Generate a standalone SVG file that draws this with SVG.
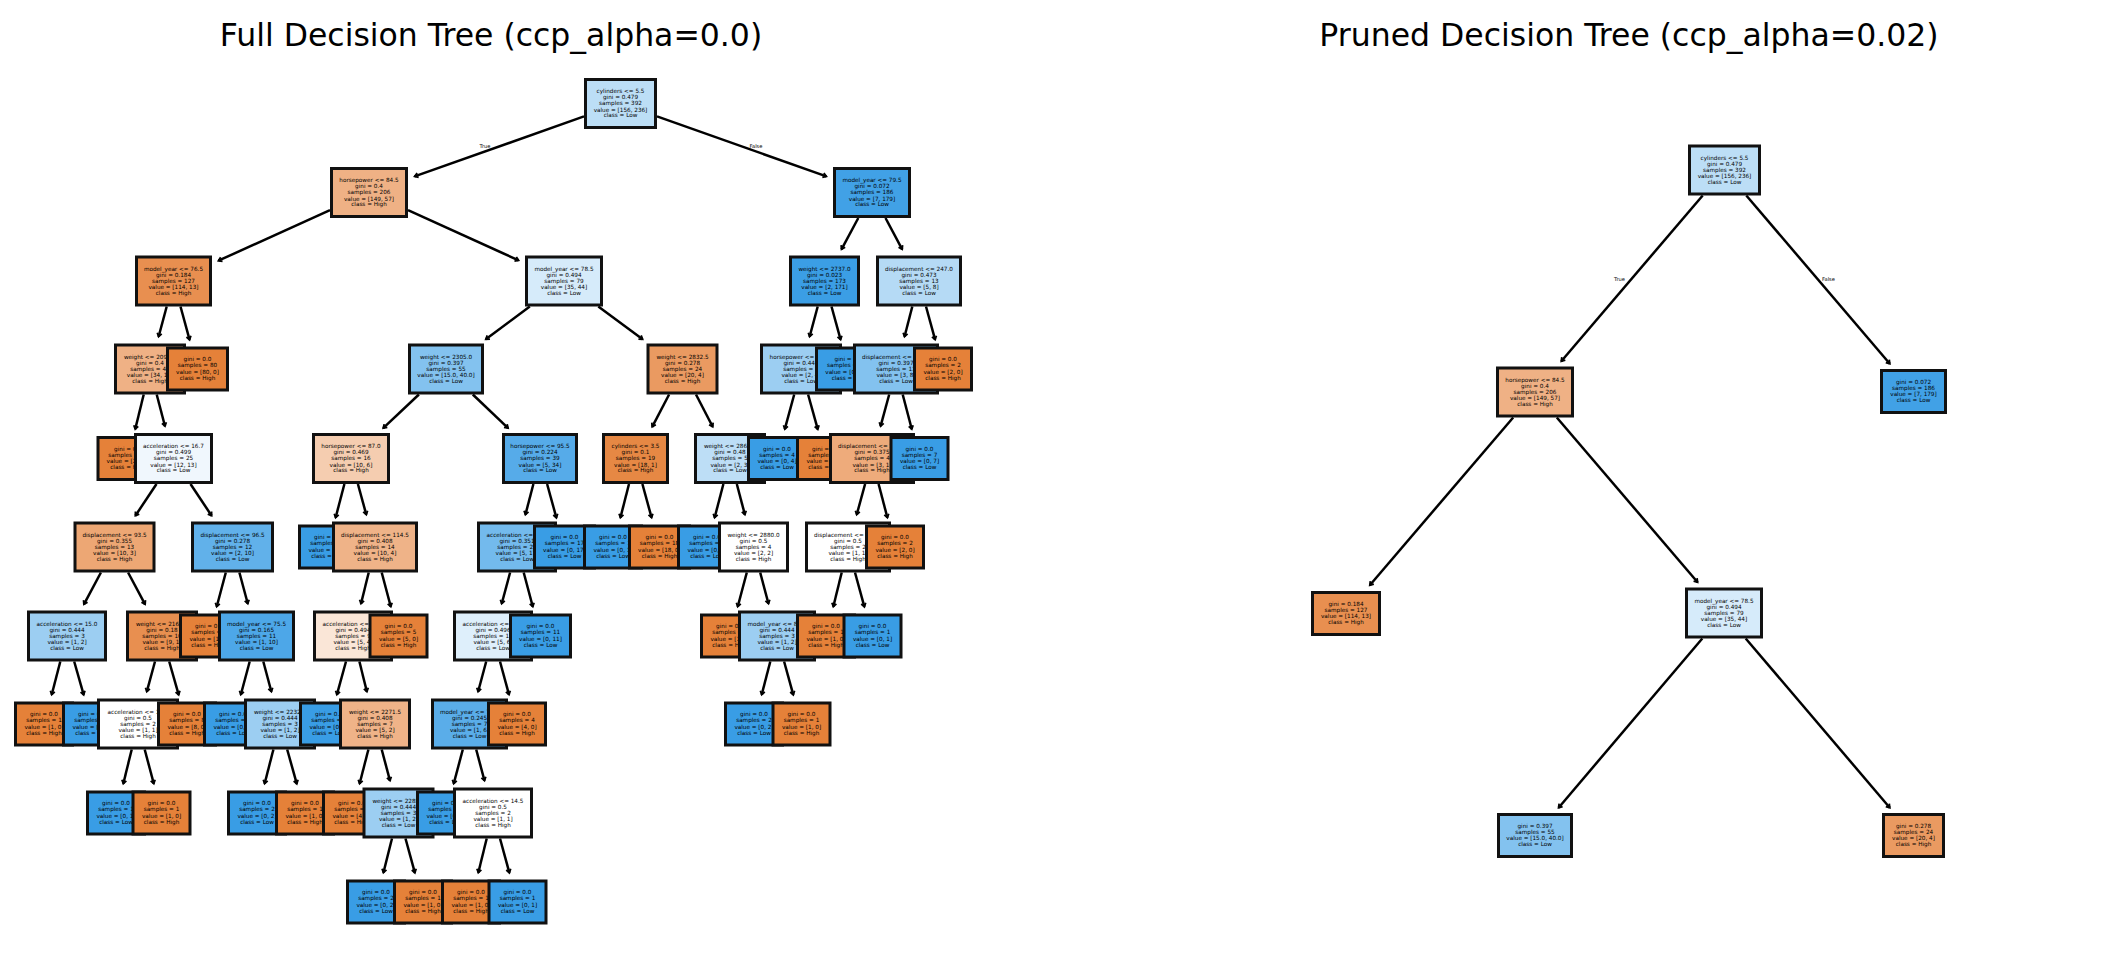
<svg xmlns="http://www.w3.org/2000/svg" width="2121" height="965" viewBox="0 0 2121 965">
<defs>
<style>
.t{font-family:"DejaVu Sans",Verdana,sans-serif;font-size:5.7px;text-anchor:middle;fill:#000}
.lbl{font-family:"DejaVu Sans",Verdana,sans-serif;font-size:5.2px;text-anchor:middle;fill:#000}
.ttl{font-family:"DejaVu Sans",Verdana,sans-serif;font-size:31.5px;text-anchor:middle;fill:#000}
rect{stroke:#111;stroke-width:3}
.e{fill:none;stroke:#000;stroke-width:2.5;marker-end:url(#ah)}
.k0{fill:#e58139}.k1{fill:#399de5}.kw{fill:#ffffff}
.a1{fill:#bcdef6}.a2{fill:#efb185}.a3{fill:#41a1e6}.a4{fill:#e88f50}.a5{fill:#d6ebfa}.a6{fill:#3b9ee5}.a7{fill:#b5daf5}.a8{fill:#83c2ef}.a9{fill:#ea9a61}
.b1{fill:#f0f7fd}.b2{fill:#f5cdb0}.b3{fill:#56abe9}.b4{fill:#e68844}.b5{fill:#bddef6}.b6{fill:#9ccef2}.b7{fill:#eda774}.b8{fill:#61b1ea}.b9{fill:#efb388}
.c1{fill:#73baed}.c2{fill:#eeab7b}.c3{fill:#4da7e8}.c4{fill:#fae6d7}.c5{fill:#deeffb}.c6{fill:#5aade9}
</style>
<marker id="ah" markerUnits="userSpaceOnUse" markerWidth="6" markerHeight="8" viewBox="-5 -4 6 8" refX="0" refY="0" orient="auto" overflow="visible">
<path d="M-3.5,-2.3 L0,0 L-3.5,2.3" fill="none" stroke="#000" stroke-width="1.8"/>
</marker>
</defs>
<rect x="0" y="0" width="2121" height="965" style="fill:#fff;stroke:none"/>
<text class="ttl" x="491" y="45.5">Full Decision Tree (ccp_alpha=0.0)</text>
<text class="ttl" x="1629" y="45.5">Pruned Decision Tree (ccp_alpha=0.02)</text>

<g id="connectors">
<path class="e" d="M584.0,116.4L414.6,176.4"/>
<path class="e" d="M657.0,116.4L826.4,176.4"/>
<path class="e" d="M330.0,210.2L218.4,260.7"/>
<path class="e" d="M408.0,210.2L518.6,260.4"/>
<path class="e" d="M166.7,306.5L158.6,336.7"/>
<path class="e" d="M180.5,306.5L189.6,339.8"/>
<path class="e" d="M143.7,394.5L135.2,429.2"/>
<path class="e" d="M156.7,394.5L165.0,426.2"/>
<path class="e" d="M156.5,484L135.4,515.7"/>
<path class="e" d="M190.5,484L211.6,515.7"/>
<path class="e" d="M100.9,572.5L83.9,604.3"/>
<path class="e" d="M128.1,572.5L145.1,604.3"/>
<path class="e" d="M60.3,661.5L51.7,694.7"/>
<path class="e" d="M74.2,661.5L83.7,694.8"/>
<path class="e" d="M155.0,661.5L146.8,691.7"/>
<path class="e" d="M169.2,661.5L178.7,694.8"/>
<path class="e" d="M131.7,749.5L123.3,783.7"/>
<path class="e" d="M144.7,749.5L153.8,783.7"/>
<path class="e" d="M225.8,572.5L216.7,606.7"/>
<path class="e" d="M239.4,572.5L247.8,603.7"/>
<path class="e" d="M249.7,661.5L240.8,694.7"/>
<path class="e" d="M263.3,661.5L271.4,691.7"/>
<path class="e" d="M273.4,749.5L264.6,783.7"/>
<path class="e" d="M287.2,749.5L296.8,783.8"/>
<path class="e" d="M529.8,306.5L485.8,339.3"/>
<path class="e" d="M598.3,306.5L642.6,339.3"/>
<path class="e" d="M418.9,394.5L383.2,428.2"/>
<path class="e" d="M472.8,394.5L508.1,428.2"/>
<path class="e" d="M344.4,484L335.6,517.7"/>
<path class="e" d="M357.9,484L366.3,514.7"/>
<path class="e" d="M368.7,572.5L361.0,603.7"/>
<path class="e" d="M381.7,572.5L390.8,606.7"/>
<path class="e" d="M346.0,661.5L336.9,694.7"/>
<path class="e" d="M359.4,661.5L366.9,691.7"/>
<path class="e" d="M368.4,749.5L359.6,783.7"/>
<path class="e" d="M381.7,749.5L390.0,780.7"/>
<path class="e" d="M392.0,838.5L383.4,872.7"/>
<path class="e" d="M405.5,838.5L414.9,872.8"/>
<path class="e" d="M533.4,484L525.4,514.7"/>
<path class="e" d="M547.1,484L556.4,517.8"/>
<path class="e" d="M510.1,572.5L501.7,603.7"/>
<path class="e" d="M523.7,572.5L532.8,606.7"/>
<path class="e" d="M486.2,661.5L478.1,691.7"/>
<path class="e" d="M500.0,661.5L509.0,694.7"/>
<path class="e" d="M462.8,749.5L453.7,783.7"/>
<path class="e" d="M476.2,749.5L484.5,780.7"/>
<path class="e" d="M486.7,838.5L478.3,872.7"/>
<path class="e" d="M500.0,838.5L509.4,872.8"/>
<path class="e" d="M669.1,394.5L652.2,426.8"/>
<path class="e" d="M696.0,394.5L712.7,426.8"/>
<path class="e" d="M629.0,484L620.4,517.7"/>
<path class="e" d="M642.4,484L651.6,517.7"/>
<path class="e" d="M723.4,484L714.6,517.7"/>
<path class="e" d="M736.8,484L744.9,514.7"/>
<path class="e" d="M746.8,572.5L737.7,606.7"/>
<path class="e" d="M760.2,572.5L768.5,603.7"/>
<path class="e" d="M770.3,661.5L761.7,694.7"/>
<path class="e" d="M784.1,661.5L793.3,694.8"/>
<path class="e" d="M858.3,218L841.5,249.3"/>
<path class="e" d="M885.5,218L902.2,249.3"/>
<path class="e" d="M817.7,306.5L809.6,336.7"/>
<path class="e" d="M831.5,306.5L840.6,339.7"/>
<path class="e" d="M794.2,394.5L784.8,429.2"/>
<path class="e" d="M808.1,394.5L817.8,429.3"/>
<path class="e" d="M912.3,306.5L904.5,336.7"/>
<path class="e" d="M926.0,306.5L935.1,339.7"/>
<path class="e" d="M889.2,394.5L880.6,426.2"/>
<path class="e" d="M902.7,394.5L911.8,429.2"/>
<path class="e" d="M865.1,484L856.7,514.7"/>
<path class="e" d="M878.6,484L887.4,517.7"/>
<path class="e" d="M841.7,572.5L833.3,606.7"/>
<path class="e" d="M855.0,572.5L864.4,606.8"/>
<path class="e" d="M1702.7,195.5L1561.3,361.2"/>
<path class="e" d="M1746.3,195.5L1889.8,363.7"/>
<path class="e" d="M1513.2,417.5L1369.8,585.2"/>
<path class="e" d="M1556.8,417.5L1697.6,582.2"/>
<path class="e" d="M1702.3,638.5L1558.6,807.7"/>
<path class="e" d="M1745.7,638.5L1889.8,807.7"/>
</g>

<g id="edge-labels">
<text class="lbl" x="485" y="147.8">True</text>
<text class="lbl" x="756" y="147.8">False</text>
<text class="lbl" x="1619.5" y="280.8">True</text>
<text class="lbl" x="1828.5" y="280.8">False</text>
</g>

<!-- full tree, level 9 -->
<g id="f32"><rect class="k1" x="347.5" y="881" width="57" height="42"/><text class="t" x="376" y="894.4"><tspan x="376">gini = 0.0</tspan><tspan x="376" dy="6">samples = 2</tspan><tspan x="376" dy="6.5">value = [0, 2]</tspan><tspan x="376" dy="5.6">class = Low</tspan></text></g>
<g id="f33"><rect class="k0" x="394.5" y="881" width="57" height="42"/><text class="t" x="423" y="894.4"><tspan x="423">gini = 0.0</tspan><tspan x="423" dy="6">samples = 1</tspan><tspan x="423" dy="6.5">value = [1, 0]</tspan><tspan x="423" dy="5.6">class = High</tspan></text></g>
<g id="f41"><rect class="k0" x="442.5" y="881" width="57" height="42"/><text class="t" x="471" y="894.4"><tspan x="471">gini = 0.0</tspan><tspan x="471" dy="6">samples = 1</tspan><tspan x="471" dy="6.5">value = [1, 0]</tspan><tspan x="471" dy="5.6">class = High</tspan></text></g>
<g id="f42"><rect class="k1" x="489" y="881" width="57" height="42"/><text class="t" x="517.5" y="894.4"><tspan x="517.5">gini = 0.0</tspan><tspan x="517.5" dy="6">samples = 1</tspan><tspan x="517.5" dy="6.5">value = [0, 1]</tspan><tspan x="517.5" dy="5.6">class = Low</tspan></text></g>

<!-- level 8 -->
<g id="f12"><rect class="k1" x="87.5" y="792" width="57" height="42"/><text class="t" x="116" y="805.4"><tspan x="116">gini = 0.0</tspan><tspan x="116" dy="6">samples = 1</tspan><tspan x="116" dy="6.5">value = [0, 1]</tspan><tspan x="116" dy="5.6">class = Low</tspan></text></g>
<g id="f13"><rect class="k0" x="133" y="792" width="57" height="42"/><text class="t" x="161.5" y="805.4"><tspan x="161.5">gini = 0.0</tspan><tspan x="161.5" dy="6">samples = 1</tspan><tspan x="161.5" dy="6.5">value = [1, 0]</tspan><tspan x="161.5" dy="5.6">class = High</tspan></text></g>
<g id="f20"><rect class="k1" x="228.5" y="792" width="57" height="42"/><text class="t" x="257" y="805.4"><tspan x="257">gini = 0.0</tspan><tspan x="257" dy="6">samples = 2</tspan><tspan x="257" dy="6.5">value = [0, 2]</tspan><tspan x="257" dy="5.6">class = Low</tspan></text></g>
<g id="f21"><rect class="k0" x="276.5" y="792" width="57" height="42"/><text class="t" x="305" y="805.4"><tspan x="305">gini = 0.0</tspan><tspan x="305" dy="6">samples = 1</tspan><tspan x="305" dy="6.5">value = [1, 0]</tspan><tspan x="305" dy="5.6">class = High</tspan></text></g>
<g id="f30"><rect class="k0" x="323.5" y="792" width="57" height="42"/><text class="t" x="352" y="805.4"><tspan x="352">gini = 0.0</tspan><tspan x="352" dy="6">samples = 4</tspan><tspan x="352" dy="6.5">value = [4, 0]</tspan><tspan x="352" dy="5.6">class = High</tspan></text></g>
<g id="f31"><rect class="b6" x="364" y="789" width="69" height="48"/><text class="t" x="398.5" y="802.9"><tspan x="398.5">weight &lt;= 2285.0</tspan><tspan x="398.5" dy="6">gini = 0.444</tspan><tspan x="398.5" dy="5.8">samples = 3</tspan><tspan x="398.5" dy="6.4">value = [1, 2]</tspan><tspan x="398.5" dy="5.4">class = Low</tspan></text></g>
<g id="f39"><rect class="k1" x="417.5" y="792" width="57" height="42"/><text class="t" x="446" y="805.4"><tspan x="446">gini = 0.0</tspan><tspan x="446" dy="6">samples = 5</tspan><tspan x="446" dy="6.5">value = [0, 5]</tspan><tspan x="446" dy="5.6">class = Low</tspan></text></g>
<g id="f40"><rect class="kw" x="454.5" y="789" width="77" height="48"/><text class="t" x="493" y="802.9"><tspan x="493">acceleration &lt;= 14.5</tspan><tspan x="493" dy="6">gini = 0.5</tspan><tspan x="493" dy="5.8">samples = 2</tspan><tspan x="493" dy="6.4">value = [1, 1]</tspan><tspan x="493" dy="5.4">class = High</tspan></text></g>

<!-- level 7 -->
<g id="f8"><rect class="k0" x="15.5" y="703" width="57" height="42"/><text class="t" x="44" y="716.4"><tspan x="44">gini = 0.0</tspan><tspan x="44" dy="6">samples = 1</tspan><tspan x="44" dy="6.5">value = [1, 0]</tspan><tspan x="44" dy="5.6">class = High</tspan></text></g>
<g id="f9"><rect class="k1" x="63.5" y="703" width="57" height="42"/><text class="t" x="92" y="716.4"><tspan x="92">gini = 0.0</tspan><tspan x="92" dy="6">samples = 2</tspan><tspan x="92" dy="6.5">value = [0, 2]</tspan><tspan x="92" dy="5.6">class = Low</tspan></text></g>
<g id="f11"><rect class="kw" x="98.5" y="700" width="79" height="48"/><text class="t" x="138" y="713.9"><tspan x="138">acceleration &lt;= 16.0</tspan><tspan x="138" dy="6">gini = 0.5</tspan><tspan x="138" dy="5.8">samples = 2</tspan><tspan x="138" dy="6.4">value = [1, 1]</tspan><tspan x="138" dy="5.4">class = High</tspan></text></g>
<g id="f14"><rect class="k0" x="158.5" y="703" width="57" height="42"/><text class="t" x="187" y="716.4"><tspan x="187">gini = 0.0</tspan><tspan x="187" dy="6">samples = 8</tspan><tspan x="187" dy="6.5">value = [8, 0]</tspan><tspan x="187" dy="5.6">class = High</tspan></text></g>
<g id="f18"><rect class="k1" x="204.5" y="703" width="57" height="42"/><text class="t" x="233" y="716.4"><tspan x="233">gini = 0.0</tspan><tspan x="233" dy="6">samples = 8</tspan><tspan x="233" dy="6.5">value = [0, 8]</tspan><tspan x="233" dy="5.6">class = Low</tspan></text></g>
<g id="f19"><rect class="b6" x="245.5" y="700" width="69" height="48"/><text class="t" x="280" y="713.9"><tspan x="280">weight &lt;= 2232.5</tspan><tspan x="280" dy="6">gini = 0.444</tspan><tspan x="280" dy="5.8">samples = 3</tspan><tspan x="280" dy="6.4">value = [1, 2]</tspan><tspan x="280" dy="5.4">class = Low</tspan></text></g>
<g id="f28"><rect class="k1" x="300.5" y="703" width="57" height="42"/><text class="t" x="329" y="716.4"><tspan x="329">gini = 0.0</tspan><tspan x="329" dy="6">samples = 2</tspan><tspan x="329" dy="6.5">value = [0, 2]</tspan><tspan x="329" dy="5.6">class = Low</tspan></text></g>
<g id="f29"><rect class="b9" x="340.5" y="700" width="69" height="48"/><text class="t" x="375" y="713.9"><tspan x="375">weight &lt;= 2271.5</tspan><tspan x="375" dy="6">gini = 0.408</tspan><tspan x="375" dy="5.8">samples = 7</tspan><tspan x="375" dy="6.4">value = [5, 2]</tspan><tspan x="375" dy="5.4">class = High</tspan></text></g>
<g id="f38"><rect class="c6" x="432.5" y="700" width="74" height="48"/><text class="t" x="469.5" y="713.9"><tspan x="469.5">model_year &lt;= 77.5</tspan><tspan x="469.5" dy="6">gini = 0.245</tspan><tspan x="469.5" dy="5.8">samples = 7</tspan><tspan x="469.5" dy="6.4">value = [1, 6]</tspan><tspan x="469.5" dy="5.4">class = Low</tspan></text></g>
<g id="f43"><rect class="k0" x="488.5" y="703" width="57" height="42"/><text class="t" x="517" y="716.4"><tspan x="517">gini = 0.0</tspan><tspan x="517" dy="6">samples = 4</tspan><tspan x="517" dy="6.5">value = [4, 0]</tspan><tspan x="517" dy="5.6">class = High</tspan></text></g>
<g id="f55"><rect class="k1" x="725.5" y="703" width="57" height="42"/><text class="t" x="754" y="716.4"><tspan x="754">gini = 0.0</tspan><tspan x="754" dy="6">samples = 2</tspan><tspan x="754" dy="6.5">value = [0, 2]</tspan><tspan x="754" dy="5.6">class = Low</tspan></text></g>
<g id="f56"><rect class="k0" x="773" y="703" width="57" height="42"/><text class="t" x="801.5" y="716.4"><tspan x="801.5">gini = 0.0</tspan><tspan x="801.5" dy="6">samples = 1</tspan><tspan x="801.5" dy="6.5">value = [1, 0]</tspan><tspan x="801.5" dy="5.6">class = High</tspan></text></g>

<!-- level 6 -->
<g id="f7"><rect class="b6" x="28.5" y="612" width="77" height="48"/><text class="t" x="67" y="625.9"><tspan x="67">acceleration &lt;= 15.0</tspan><tspan x="67" dy="6">gini = 0.444</tspan><tspan x="67" dy="5.8">samples = 3</tspan><tspan x="67" dy="6.4">value = [1, 2]</tspan><tspan x="67" dy="5.4">class = Low</tspan></text></g>
<g id="f10"><rect class="a4" x="127.5" y="612" width="69" height="48"/><text class="t" x="162" y="625.9"><tspan x="162">weight &lt;= 2162.5</tspan><tspan x="162" dy="6">gini = 0.18</tspan><tspan x="162" dy="5.8">samples = 10</tspan><tspan x="162" dy="6.4">value = [9, 1]</tspan><tspan x="162" dy="5.4">class = High</tspan></text></g>
<g id="f16"><rect class="k0" x="180.5" y="615" width="57" height="42"/><text class="t" x="209" y="628.4"><tspan x="209">gini = 0.0</tspan><tspan x="209" dy="6">samples = 1</tspan><tspan x="209" dy="6.5">value = [1, 0]</tspan><tspan x="209" dy="5.6">class = High</tspan></text></g>
<g id="f17"><rect class="c3" x="219.5" y="612" width="74" height="48"/><text class="t" x="256.5" y="625.9"><tspan x="256.5">model_year &lt;= 75.5</tspan><tspan x="256.5" dy="6">gini = 0.165</tspan><tspan x="256.5" dy="5.8">samples = 11</tspan><tspan x="256.5" dy="6.4">value = [1, 10]</tspan><tspan x="256.5" dy="5.4">class = Low</tspan></text></g>
<g id="f27"><rect class="c4" x="314.5" y="612" width="77" height="48"/><text class="t" x="353" y="625.9"><tspan x="353">acceleration &lt;= 16.9</tspan><tspan x="353" dy="6">gini = 0.494</tspan><tspan x="353" dy="5.8">samples = 9</tspan><tspan x="353" dy="6.4">value = [5, 4]</tspan><tspan x="353" dy="5.4">class = High</tspan></text></g>
<g id="f34"><rect class="k0" x="370" y="615" width="57" height="42"/><text class="t" x="398.5" y="628.4"><tspan x="398.5">gini = 0.0</tspan><tspan x="398.5" dy="6">samples = 5</tspan><tspan x="398.5" dy="6.5">value = [5, 0]</tspan><tspan x="398.5" dy="5.6">class = High</tspan></text></g>
<g id="f37"><rect class="c5" x="454.5" y="612" width="77" height="48"/><text class="t" x="493" y="625.9"><tspan x="493">acceleration &lt;= 15.8</tspan><tspan x="493" dy="6">gini = 0.496</tspan><tspan x="493" dy="5.8">samples = 11</tspan><tspan x="493" dy="6.4">value = [5, 6]</tspan><tspan x="493" dy="5.4">class = Low</tspan></text></g>
<g id="f44"><rect class="k1" x="510.5" y="615" width="60" height="42"/><text class="t" x="540.5" y="628.4"><tspan x="540.5">gini = 0.0</tspan><tspan x="540.5" dy="6">samples = 11</tspan><tspan x="540.5" dy="6.5">value = [0, 11]</tspan><tspan x="540.5" dy="5.6">class = Low</tspan></text></g>
<g id="f53"><rect class="k0" x="701.5" y="615" width="57" height="42"/><text class="t" x="730" y="628.4"><tspan x="730">gini = 0.0</tspan><tspan x="730" dy="6">samples = 1</tspan><tspan x="730" dy="6.5">value = [1, 0]</tspan><tspan x="730" dy="5.6">class = High</tspan></text></g>
<g id="f54"><rect class="b6" x="739.5" y="612" width="75" height="48"/><text class="t" x="777" y="625.9"><tspan x="777">model_year &lt;= 81.5</tspan><tspan x="777" dy="6">gini = 0.444</tspan><tspan x="777" dy="5.8">samples = 3</tspan><tspan x="777" dy="6.4">value = [1, 2]</tspan><tspan x="777" dy="5.4">class = Low</tspan></text></g>
<g id="f67"><rect class="k0" x="797.5" y="615" width="57" height="42"/><text class="t" x="826" y="628.4"><tspan x="826">gini = 0.0</tspan><tspan x="826" dy="6">samples = 1</tspan><tspan x="826" dy="6.5">value = [1, 0]</tspan><tspan x="826" dy="5.6">class = High</tspan></text></g>
<g id="f68"><rect class="k1" x="844" y="615" width="57" height="42"/><text class="t" x="872.5" y="628.4"><tspan x="872.5">gini = 0.0</tspan><tspan x="872.5" dy="6">samples = 1</tspan><tspan x="872.5" dy="6.5">value = [0, 1]</tspan><tspan x="872.5" dy="5.6">class = Low</tspan></text></g>

<!-- level 5 -->
<g id="f6"><rect class="b7" x="75" y="523" width="79" height="48"/><text class="t" x="114.5" y="536.9"><tspan x="114.5">displacement &lt;= 93.5</tspan><tspan x="114.5" dy="6">gini = 0.355</tspan><tspan x="114.5" dy="5.8">samples = 13</tspan><tspan x="114.5" dy="6.4">value = [10, 3]</tspan><tspan x="114.5" dy="5.4">class = High</tspan></text></g>
<g id="f15"><rect class="b8" x="192.5" y="523" width="80" height="48"/><text class="t" x="232.5" y="536.9"><tspan x="232.5">displacement &lt;= 96.5</tspan><tspan x="232.5" dy="6">gini = 0.278</tspan><tspan x="232.5" dy="5.8">samples = 12</tspan><tspan x="232.5" dy="6.4">value = [2, 10]</tspan><tspan x="232.5" dy="5.4">class = Low</tspan></text></g>
<g id="f25"><rect class="k1" x="299.5" y="526" width="57" height="42"/><text class="t" x="328" y="539.4"><tspan x="328">gini = 0.0</tspan><tspan x="328" dy="6">samples = 2</tspan><tspan x="328" dy="6.5">value = [0, 2]</tspan><tspan x="328" dy="5.6">class = Low</tspan></text></g>
<g id="f26"><rect class="b9" x="333.5" y="523" width="83" height="48"/><text class="t" x="375" y="536.9"><tspan x="375">displacement &lt;= 114.5</tspan><tspan x="375" dy="6">gini = 0.408</tspan><tspan x="375" dy="5.8">samples = 14</tspan><tspan x="375" dy="6.4">value = [10, 4]</tspan><tspan x="375" dy="5.4">class = High</tspan></text></g>
<g id="f36"><rect class="c1" x="478.5" y="523" width="77" height="48"/><text class="t" x="517" y="536.9"><tspan x="517">acceleration &lt;= 19.6</tspan><tspan x="517" dy="6">gini = 0.351</tspan><tspan x="517" dy="5.8">samples = 22</tspan><tspan x="517" dy="6.4">value = [5, 17]</tspan><tspan x="517" dy="5.4">class = Low</tspan></text></g>
<g id="f45"><rect class="k1" x="534.5" y="526" width="60" height="42"/><text class="t" x="564.5" y="539.4"><tspan x="564.5">gini = 0.0</tspan><tspan x="564.5" dy="6">samples = 17</tspan><tspan x="564.5" dy="6.5">value = [0, 17]</tspan><tspan x="564.5" dy="5.6">class = Low</tspan></text></g>
<g id="f48"><rect class="k1" x="584.5" y="526" width="57" height="42"/><text class="t" x="613" y="539.4"><tspan x="613">gini = 0.0</tspan><tspan x="613" dy="6">samples = 1</tspan><tspan x="613" dy="6.5">value = [0, 1]</tspan><tspan x="613" dy="5.6">class = Low</tspan></text></g>
<g id="f49"><rect class="k0" x="629.5" y="526" width="60" height="42"/><text class="t" x="659.5" y="539.4"><tspan x="659.5">gini = 0.0</tspan><tspan x="659.5" dy="6">samples = 18</tspan><tspan x="659.5" dy="6.5">value = [18, 0]</tspan><tspan x="659.5" dy="5.6">class = High</tspan></text></g>
<g id="f51"><rect class="k1" x="678.5" y="526" width="57" height="42"/><text class="t" x="707" y="539.4"><tspan x="707">gini = 0.0</tspan><tspan x="707" dy="6">samples = 1</tspan><tspan x="707" dy="6.5">value = [0, 1]</tspan><tspan x="707" dy="5.6">class = Low</tspan></text></g>
<g id="f52"><rect class="kw" x="719.5" y="523" width="68" height="48"/><text class="t" x="753.5" y="536.9"><tspan x="753.5">weight &lt;= 2880.0</tspan><tspan x="753.5" dy="6">gini = 0.5</tspan><tspan x="753.5" dy="5.8">samples = 4</tspan><tspan x="753.5" dy="6.4">value = [2, 2]</tspan><tspan x="753.5" dy="5.4">class = High</tspan></text></g>
<g id="f66"><rect class="kw" x="806.5" y="523" width="83" height="48"/><text class="t" x="848" y="536.9"><tspan x="848">displacement &lt;= 173.5</tspan><tspan x="848" dy="6">gini = 0.5</tspan><tspan x="848" dy="5.8">samples = 2</tspan><tspan x="848" dy="6.4">value = [1, 1]</tspan><tspan x="848" dy="5.4">class = High</tspan></text></g>
<g id="f69"><rect class="k0" x="866.5" y="526" width="57" height="42"/><text class="t" x="895" y="539.4"><tspan x="895">gini = 0.0</tspan><tspan x="895" dy="6">samples = 2</tspan><tspan x="895" dy="6.5">value = [2, 0]</tspan><tspan x="895" dy="5.6">class = High</tspan></text></g>

<!-- level 4 -->
<g id="f4"><rect class="k0" x="98" y="437.5" width="60" height="42"/><text class="t" x="128" y="450.9"><tspan x="128">gini = 0.0</tspan><tspan x="128" dy="6">samples = 22</tspan><tspan x="128" dy="6.5">value = [22, 0]</tspan><tspan x="128" dy="5.6">class = High</tspan></text></g>
<g id="f5"><rect class="b1" x="135.5" y="434.5" width="76" height="48"/><text class="t" x="173.5" y="448.4"><tspan x="173.5">acceleration &lt;= 16.7</tspan><tspan x="173.5" dy="6">gini = 0.499</tspan><tspan x="173.5" dy="5.8">samples = 25</tspan><tspan x="173.5" dy="6.4">value = [12, 13]</tspan><tspan x="173.5" dy="5.4">class = Low</tspan></text></g>
<g id="f24"><rect class="b2" x="313.5" y="434.5" width="75" height="48"/><text class="t" x="351" y="448.4"><tspan x="351">horsepower &lt;= 87.0</tspan><tspan x="351" dy="6">gini = 0.469</tspan><tspan x="351" dy="5.8">samples = 16</tspan><tspan x="351" dy="6.4">value = [10, 6]</tspan><tspan x="351" dy="5.4">class = High</tspan></text></g>
<g id="f35"><rect class="b3" x="503.5" y="434.5" width="73" height="48"/><text class="t" x="540" y="448.4"><tspan x="540">horsepower &lt;= 95.5</tspan><tspan x="540" dy="6">gini = 0.224</tspan><tspan x="540" dy="5.8">samples = 39</tspan><tspan x="540" dy="6.4">value = [5, 34]</tspan><tspan x="540" dy="5.4">class = Low</tspan></text></g>
<g id="f47"><rect class="b4" x="603.5" y="434.5" width="64" height="48"/><text class="t" x="635.5" y="448.4"><tspan x="635.5">cylinders &lt;= 3.5</tspan><tspan x="635.5" dy="6">gini = 0.1</tspan><tspan x="635.5" dy="5.8">samples = 19</tspan><tspan x="635.5" dy="6.4">value = [18, 1]</tspan><tspan x="635.5" dy="5.4">class = High</tspan></text></g>
<g id="f50"><rect class="b5" x="695.5" y="434.5" width="69" height="48"/><text class="t" x="730" y="448.4"><tspan x="730">weight &lt;= 2865.0</tspan><tspan x="730" dy="6">gini = 0.48</tspan><tspan x="730" dy="5.8">samples = 5</tspan><tspan x="730" dy="6.4">value = [2, 3]</tspan><tspan x="730" dy="5.4">class = Low</tspan></text></g>
<g id="f60"><rect class="k1" x="748.5" y="437.5" width="57" height="42"/><text class="t" x="777" y="450.9"><tspan x="777">gini = 0.0</tspan><tspan x="777" dy="6">samples = 4</tspan><tspan x="777" dy="6.5">value = [0, 4]</tspan><tspan x="777" dy="5.6">class = Low</tspan></text></g>
<g id="f61"><rect class="k0" x="797.5" y="437.5" width="57" height="42"/><text class="t" x="826" y="450.9"><tspan x="826">gini = 0.0</tspan><tspan x="826" dy="6">samples = 2</tspan><tspan x="826" dy="6.5">value = [2, 0]</tspan><tspan x="826" dy="5.6">class = High</tspan></text></g>
<g id="f65"><rect class="c2" x="830.5" y="434.5" width="83" height="48"/><text class="t" x="872" y="448.4"><tspan x="872">displacement &lt;= 200.5</tspan><tspan x="872" dy="6">gini = 0.375</tspan><tspan x="872" dy="5.8">samples = 4</tspan><tspan x="872" dy="6.4">value = [3, 1]</tspan><tspan x="872" dy="5.4">class = High</tspan></text></g>
<g id="f70"><rect class="k1" x="891" y="437.5" width="57" height="42"/><text class="t" x="919.5" y="450.9"><tspan x="919.5">gini = 0.0</tspan><tspan x="919.5" dy="6">samples = 7</tspan><tspan x="919.5" dy="6.5">value = [0, 7]</tspan><tspan x="919.5" dy="5.6">class = Low</tspan></text></g>

<!-- level 3 -->
<g id="f3"><rect class="a2" x="115.5" y="345" width="69" height="48"/><text class="t" x="150" y="358.9"><tspan x="150">weight &lt;= 2095.0</tspan><tspan x="150" dy="6">gini = 0.4</tspan><tspan x="150" dy="5.8">samples = 47</tspan><tspan x="150" dy="6.4">value = [34, 13]</tspan><tspan x="150" dy="5.4">class = High</tspan></text></g>
<g id="f3b"><rect class="k0" x="167.5" y="348" width="60" height="42"/><text class="t" x="197.5" y="361.4"><tspan x="197.5">gini = 0.0</tspan><tspan x="197.5" dy="6">samples = 80</tspan><tspan x="197.5" dy="6.5">value = [80, 0]</tspan><tspan x="197.5" dy="5.6">class = High</tspan></text></g>
<g id="f23"><rect class="a8" x="409.5" y="345" width="73" height="48"/><text class="t" x="446" y="358.9"><tspan x="446">weight &lt;= 2305.0</tspan><tspan x="446" dy="6">gini = 0.397</tspan><tspan x="446" dy="5.8">samples = 55</tspan><tspan x="446" dy="6.4">value = [15.0, 40.0]</tspan><tspan x="446" dy="5.4">class = Low</tspan></text></g>
<g id="f46"><rect class="a9" x="648" y="345" width="69" height="48"/><text class="t" x="682.5" y="358.9"><tspan x="682.5">weight &lt;= 2832.5</tspan><tspan x="682.5" dy="6">gini = 0.278</tspan><tspan x="682.5" dy="5.8">samples = 24</tspan><tspan x="682.5" dy="6.4">value = [20, 4]</tspan><tspan x="682.5" dy="5.4">class = High</tspan></text></g>
<g id="f59"><rect class="b6" x="761.5" y="345" width="79" height="48"/><text class="t" x="801" y="358.9"><tspan x="801">horsepower &lt;= 100.0</tspan><tspan x="801" dy="6">gini = 0.444</tspan><tspan x="801" dy="5.8">samples = 6</tspan><tspan x="801" dy="6.4">value = [2, 4]</tspan><tspan x="801" dy="5.4">class = Low</tspan></text></g>
<g id="f62"><rect class="k1" x="816.5" y="348" width="64" height="42"/><text class="t" x="848.5" y="361.4"><tspan x="848.5">gini = 0.0</tspan><tspan x="848.5" dy="6">samples = 167</tspan><tspan x="848.5" dy="6.5">value = [0, 167]</tspan><tspan x="848.5" dy="5.6">class = Low</tspan></text></g>
<g id="f64"><rect class="a8" x="854.5" y="345" width="83" height="48"/><text class="t" x="896" y="358.9"><tspan x="896">displacement &lt;= 231.0</tspan><tspan x="896" dy="6">gini = 0.397</tspan><tspan x="896" dy="5.8">samples = 11</tspan><tspan x="896" dy="6.4">value = [3, 8]</tspan><tspan x="896" dy="5.4">class = Low</tspan></text></g>
<g id="f71"><rect class="k0" x="914.5" y="348" width="57" height="42"/><text class="t" x="943" y="361.4"><tspan x="943">gini = 0.0</tspan><tspan x="943" dy="6">samples = 2</tspan><tspan x="943" dy="6.5">value = [2, 0]</tspan><tspan x="943" dy="5.6">class = High</tspan></text></g>

<!-- level 2 -->
<g id="f2"><rect class="a4" x="136.5" y="257" width="74" height="48"/><text class="t" x="173.5" y="270.9"><tspan x="173.5">model_year &lt;= 76.5</tspan><tspan x="173.5" dy="6">gini = 0.184</tspan><tspan x="173.5" dy="5.8">samples = 127</tspan><tspan x="173.5" dy="6.4">value = [114, 13]</tspan><tspan x="173.5" dy="5.4">class = High</tspan></text></g>
<g id="f22"><rect class="a5" x="526.5" y="257" width="75" height="48"/><text class="t" x="564" y="270.9"><tspan x="564">model_year &lt;= 78.5</tspan><tspan x="564" dy="6">gini = 0.494</tspan><tspan x="564" dy="5.8">samples = 79</tspan><tspan x="564" dy="6.4">value = [35, 44]</tspan><tspan x="564" dy="5.4">class = Low</tspan></text></g>
<g id="f58"><rect class="a6" x="790.5" y="257" width="68" height="48"/><text class="t" x="824.5" y="270.9"><tspan x="824.5">weight &lt;= 2737.0</tspan><tspan x="824.5" dy="6">gini = 0.023</tspan><tspan x="824.5" dy="5.8">samples = 173</tspan><tspan x="824.5" dy="6.4">value = [2, 171]</tspan><tspan x="824.5" dy="5.4">class = Low</tspan></text></g>
<g id="f63"><rect class="a7" x="877.5" y="257" width="83" height="48"/><text class="t" x="919" y="270.9"><tspan x="919">displacement &lt;= 247.0</tspan><tspan x="919" dy="6">gini = 0.473</tspan><tspan x="919" dy="5.8">samples = 13</tspan><tspan x="919" dy="6.4">value = [5, 8]</tspan><tspan x="919" dy="5.4">class = Low</tspan></text></g>

<!-- level 1 -->
<g id="f1"><rect class="a2" x="331.5" y="168.5" width="75" height="48"/><text class="t" x="369" y="182.4"><tspan x="369">horsepower &lt;= 84.5</tspan><tspan x="369" dy="6">gini = 0.4</tspan><tspan x="369" dy="5.8">samples = 206</tspan><tspan x="369" dy="6.4">value = [149, 57]</tspan><tspan x="369" dy="5.4">class = High</tspan></text></g>
<g id="f57"><rect class="a3" x="834.5" y="168.5" width="75" height="48"/><text class="t" x="872" y="182.4"><tspan x="872">model_year &lt;= 79.5</tspan><tspan x="872" dy="6">gini = 0.072</tspan><tspan x="872" dy="5.8">samples = 186</tspan><tspan x="872" dy="6.4">value = [7, 179]</tspan><tspan x="872" dy="5.4">class = Low</tspan></text></g>

<!-- root -->
<g id="f0"><rect class="a1" x="585.5" y="79.5" width="70" height="48"/><text class="t" x="620.5" y="93.4"><tspan x="620.5">cylinders &lt;= 5.5</tspan><tspan x="620.5" dy="6">gini = 0.479</tspan><tspan x="620.5" dy="5.8">samples = 392</tspan><tspan x="620.5" dy="6.4">value = [156, 236]</tspan><tspan x="620.5" dy="5.4">class = Low</tspan></text></g>

<!-- pruned tree -->
<g id="p5"><rect class="a8" x="1498.5" y="814.5" width="73" height="42"/><text class="t" x="1535" y="827.9"><tspan x="1535">gini = 0.397</tspan><tspan x="1535" dy="6">samples = 55</tspan><tspan x="1535" dy="6.5">value = [15.0, 40.0]</tspan><tspan x="1535" dy="5.6">class = Low</tspan></text></g>
<g id="p6"><rect class="a9" x="1883.5" y="814.5" width="60" height="42"/><text class="t" x="1913.5" y="827.9"><tspan x="1913.5">gini = 0.278</tspan><tspan x="1913.5" dy="6">samples = 24</tspan><tspan x="1913.5" dy="6.5">value = [20, 4]</tspan><tspan x="1913.5" dy="5.6">class = High</tspan></text></g>
<g id="p3"><rect class="a4" x="1312.5" y="592.5" width="67" height="42"/><text class="t" x="1346" y="605.9"><tspan x="1346">gini = 0.184</tspan><tspan x="1346" dy="6">samples = 127</tspan><tspan x="1346" dy="6.5">value = [114, 13]</tspan><tspan x="1346" dy="5.6">class = High</tspan></text></g>
<g id="p4"><rect class="a5" x="1686.5" y="589" width="75" height="48"/><text class="t" x="1724" y="602.9"><tspan x="1724">model_year &lt;= 78.5</tspan><tspan x="1724" dy="6">gini = 0.494</tspan><tspan x="1724" dy="5.8">samples = 79</tspan><tspan x="1724" dy="6.4">value = [35, 44]</tspan><tspan x="1724" dy="5.4">class = Low</tspan></text></g>
<g id="p1"><rect class="a2" x="1497.5" y="368" width="75" height="48"/><text class="t" x="1535" y="381.9"><tspan x="1535">horsepower &lt;= 84.5</tspan><tspan x="1535" dy="6">gini = 0.4</tspan><tspan x="1535" dy="5.8">samples = 206</tspan><tspan x="1535" dy="6.4">value = [149, 57]</tspan><tspan x="1535" dy="5.4">class = High</tspan></text></g>
<g id="p2"><rect class="a3" x="1881.5" y="370.5" width="64" height="42"/><text class="t" x="1913.5" y="383.9"><tspan x="1913.5">gini = 0.072</tspan><tspan x="1913.5" dy="6">samples = 186</tspan><tspan x="1913.5" dy="6.5">value = [7, 179]</tspan><tspan x="1913.5" dy="5.6">class = Low</tspan></text></g>
<g id="p0"><rect class="a1" x="1689.5" y="146" width="70" height="48"/><text class="t" x="1724.5" y="159.9"><tspan x="1724.5">cylinders &lt;= 5.5</tspan><tspan x="1724.5" dy="6">gini = 0.479</tspan><tspan x="1724.5" dy="5.8">samples = 392</tspan><tspan x="1724.5" dy="6.4">value = [156, 236]</tspan><tspan x="1724.5" dy="5.4">class = Low</tspan></text></g>
</svg>
